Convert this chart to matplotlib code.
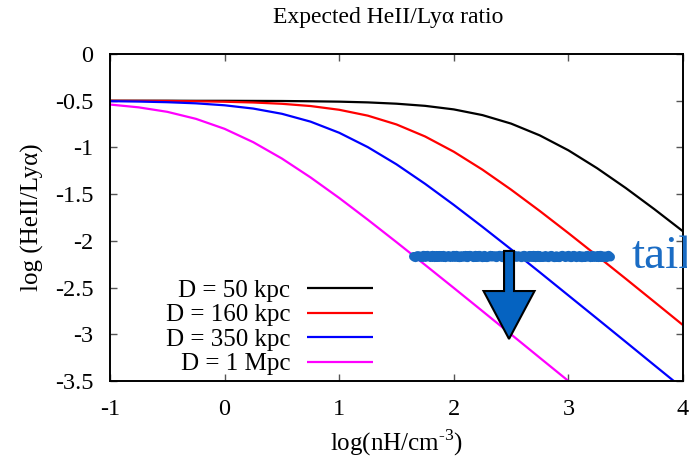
import matplotlib
matplotlib.use("Agg")
import matplotlib.pyplot as plt
from matplotlib.transforms import Bbox, TransformedBbox

plt.rcParams['font.family'] = ['Liberation Serif', 'DejaVu Serif']
plt.rcParams['mathtext.fontset'] = 'custom'
plt.rcParams['mathtext.rm'] = 'Liberation Serif'

# ---- data ----
log_nH = [-1.0, -0.75, -0.5, -0.25, 0.0, 0.25, 0.5, 0.75, 1.0, 1.25, 1.5,
          1.75, 2.0, 2.25, 2.5, 2.75, 3.0, 3.25, 3.5, 3.75, 4.0]
ratio_50kpc = [-0.500, -0.500, -0.500, -0.501, -0.501, -0.502, -0.503, -0.506,
               -0.510, -0.518, -0.532, -0.555, -0.593, -0.654, -0.745, -0.871,
               -1.031, -1.222, -1.434, -1.661, -1.898]
ratio_160kpc = [-0.501, -0.502, -0.503, -0.506, -0.511, -0.519, -0.533, -0.557,
                -0.597, -0.660, -0.754, -0.883, -1.046, -1.238, -1.452, -1.680,
                -1.917, -2.160, -2.405, -2.653, -2.902]
ratio_350kpc = [-0.505, -0.509, -0.516, -0.528, -0.549, -0.584, -0.640, -0.724,
                -0.843, -0.997, -1.181, -1.390, -1.615, -1.850, -2.091, -2.336,
                -2.584, -2.832, -3.081, -3.331, -3.580]
ratio_1Mpc = [-0.541, -0.571, -0.619, -0.694, -0.801, -0.944, -1.119, -1.321,
              -1.541, -1.774, -2.014, -2.258, -2.504, -2.752, -3.001, -3.251,
              -3.500]
labels = ["D = 50 kpc", "D = 160 kpc", "D = 350 kpc", "D = 1 Mpc"]
colors = ["#000000", "#ff0000", "#0000ff", "#ff00ff"]

x_ticks = [-1, 0, 1, 2, 3, 4]
y_ticks = [0, -0.5, -1, -1.5, -2, -2.5, -3, -3.5]
y_ticklabels = ["0", "-0.5", "-1", "-1.5", "-2", "-2.5", "-3", "-3.5"]

# annotation: scribbled "tail" line and downward arrow
tail_x = [1.64, 3.36]
tail_y = [-2.16, -2.16]
arrow_x = 2.482
arrow_top = -2.108
arrow_tip = -3.05

fig = plt.figure(figsize=(6.95, 4.66), dpi=100)
ax = fig.add_axes([110/695, 1-381/466, 573/695, 327/466])

series = [ratio_50kpc, ratio_160kpc, ratio_350kpc, ratio_1Mpc]
for vals, lab, col in zip(series, labels, colors):
    ax.plot(log_nH[:len(vals)], vals, color=col, lw=1.6, label=lab,
            solid_capstyle='butt')

ax.set_xlim(-1, 4)
ax.set_ylim(-3.5, 0)
ax.set_xticks(x_ticks)
ax.set_xticklabels([str(t) for t in x_ticks])
ax.set_yticks(y_ticks)
ax.set_yticklabels(y_ticklabels)
ax.tick_params(direction='in', length=5, width=1, color='#555555',
               top=True, right=True, labelsize=17.5)
ax.tick_params(axis='y', pad=12)
ax.tick_params(axis='x', pad=13)
for s in ax.spines.values():
    s.set_linewidth(1.4)
    s.set_color('black')

ax.set_xlabel(r"log(nH/cm$^{\text{-3}}$)", fontsize=18, labelpad=5)
ax.set_ylabel("log (HeII/Ly\u03b1)", fontsize=18, labelpad=8)
fig.text(388/695, 1-17/466, "Expected HeII/Ly\u03b1 ratio", fontsize=17,
         ha='center', va='center')

leg = ax.legend(loc='lower right', bbox_to_anchor=(0.459, 0.017),
                markerfirst=False, frameon=False, fontsize=18,
                handlelength=2.64, handletextpad=0.68, labelspacing=0.082,
                borderpad=0, borderaxespad=0)

# scribble line
scribble, = ax.plot(tail_x, tail_y, color='#1769c1', lw=6.5,
                    solid_capstyle='round', zorder=5, clip_on=False)
scribble.set_sketch_params(1.2, 5, 2)

# arrow
ax.arrow(arrow_x, arrow_top, 0, arrow_tip - arrow_top, width=0.087,
         head_width=0.445, head_length=0.513, length_includes_head=True,
         fc='#0563c1', ec='black', lw=1.5, zorder=6)

# "tail" text
t = fig.text(632/695, 1-268/466, "tails", fontsize=34, color='#1a6cc4',
             ha='left', va='baseline')
t.set_clip_box(TransformedBbox(Bbox([[0, 0], [687/695, 1]]), fig.transFigure))
t.set_clip_on(True)

fig.savefig("out.png", dpi=100)
